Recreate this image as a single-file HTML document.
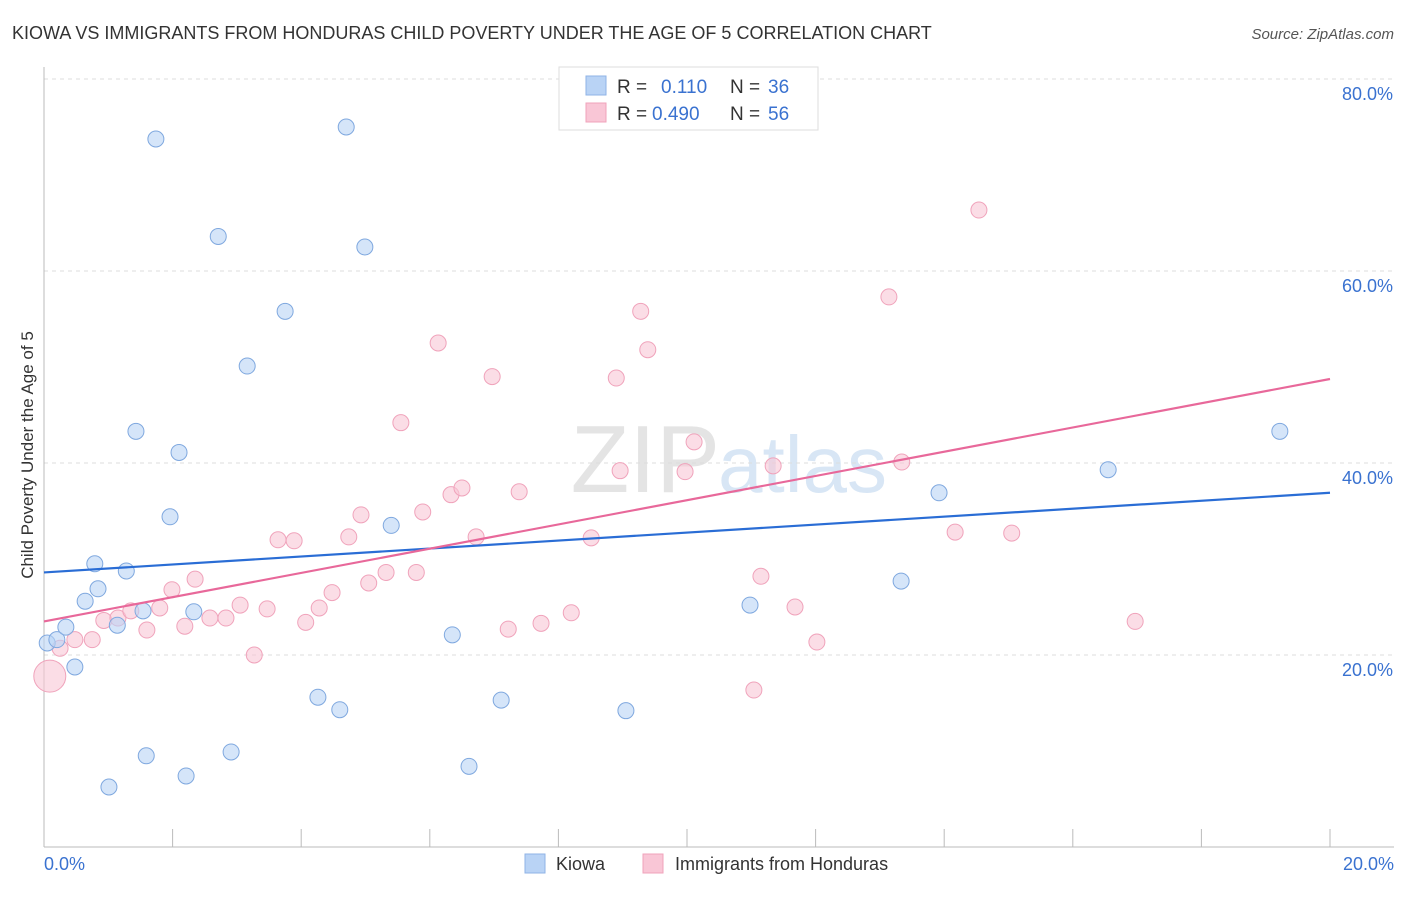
<!DOCTYPE html>
<html><head><meta charset="utf-8"><style>
body{margin:0;background:#fff;font-family:"Liberation Sans",sans-serif;}
svg text{font-family:"Liberation Sans",sans-serif;}
</style></head><body>
<svg id="chart" width="1406" height="892" xmlns="http://www.w3.org/2000/svg">
<text x="12" y="39" font-size="18" fill="#333">KIOWA VS IMMIGRANTS FROM HONDURAS CHILD POVERTY UNDER THE AGE OF 5 CORRELATION CHART</text>
<text x="1394" y="39" font-size="15" fill="#555" font-style="italic" text-anchor="end">Source: ZipAtlas.com</text>
<text x="720" y="492" font-size="96" fill="#e4e4e4" text-anchor="end" font-family="Liberation Serif">ZIP</text>
<text x="718" y="492" font-size="80" fill="#d8e6f5">atlas</text>
<g id="grid"></g>
<g id="axes"></g>
<g id="marks"></g>
<text transform="translate(33,455) rotate(-90)" font-size="17" fill="#333" text-anchor="middle">Child Poverty Under the Age of 5</text>
<g>
<rect x="559" y="67" width="259" height="63" fill="#fff" stroke="#ddd"/>
<rect x="586" y="76" width="20" height="19" fill="#b9d3f5" stroke="#8fb3e6"/>
<rect x="586" y="103" width="20" height="19" fill="#f9c6d6" stroke="#f0a3bb"/>
<text x="617" y="93" font-size="19" fill="#333">R = </text><text x="661" y="93" font-size="19" fill="#3a72d0">0.110</text>
<text x="730" y="93" font-size="19" fill="#333">N = </text><text x="768" y="93" font-size="19" fill="#3a72d0">36</text>
<text x="617" y="120" font-size="19" fill="#333">R = </text><text x="652" y="120" font-size="19" fill="#3a72d0">0.490</text>
<text x="730" y="120" font-size="19" fill="#333">N = </text><text x="768" y="120" font-size="19" fill="#3a72d0">56</text>
</g>
<g>
<rect x="525" y="854" width="20" height="19" fill="#b9d3f5" stroke="#8fb3e6"/>
<text x="556" y="870" font-size="18" fill="#333">Kiowa</text>
<rect x="643" y="854" width="20" height="19" fill="#f9c6d6" stroke="#f0a3bb"/>
<text x="675" y="870" font-size="18" fill="#333">Immigrants from Honduras</text>
</g>
</svg>
<script>
const yTicks=[20,40,60,80];
const yTickLabels=["20.0%","40.0%","60.0%","80.0%"];
const xTickLabels=["0.0%","20.0%"];
const kiowaX=[0.05,0.2,0.34,0.48,0.64,0.79,0.84,1.14,1.28,1.43,1.54,1.59,1.74,1.96,2.1,2.21,2.33,2.71,2.91,3.16,3.75,4.26,4.6,4.7,4.99,5.4,6.35,6.61,7.11,9.05,10.98,13.33,13.92,16.55,19.22,1.01];
const kiowaY=[21.25,21.6,22.9,18.75,25.6,29.5,26.9,23.1,28.75,43.3,24.6,9.5,73.75,34.4,41.1,7.4,24.5,63.6,9.9,50.1,55.8,15.6,14.3,75.0,62.5,33.5,22.1,8.4,15.3,14.2,25.2,27.7,36.9,39.3,43.3,6.25];
const hondX=[0.09,0.25,0.48,0.75,0.93,1.15,1.35,1.6,1.8,1.99,2.19,2.35,2.58,2.83,3.05,3.27,3.47,3.64,3.89,4.07,4.28,4.48,4.74,4.93,5.05,5.32,5.55,5.79,5.89,6.13,6.33,6.5,6.72,6.97,7.22,7.39,7.73,8.2,8.51,8.9,8.96,9.28,9.39,9.97,10.11,11.04,11.15,11.34,11.68,12.02,13.14,13.34,14.17,14.54,15.05,16.97];
const hondY=[17.8,20.7,21.6,21.6,23.6,23.85,24.6,22.6,24.9,26.8,23.0,27.9,23.85,23.85,25.2,20.0,24.8,32.0,31.9,23.4,24.9,26.5,32.3,34.6,27.5,28.6,44.2,28.6,34.9,52.5,36.7,37.4,32.3,49.0,22.7,37.0,23.3,24.4,32.2,48.85,39.2,55.8,51.8,39.1,42.2,16.35,28.2,39.7,25.0,21.35,57.3,40.1,32.8,66.35,32.7,23.5];
const kiowaTrend=[28.6,36.9];
const hondTrend=[23.5,48.75];
const NS="http://www.w3.org/2000/svg";
const X=v=>44+v/20*1286;
const Y=v=>847-v*9.6;
function mk(tag,attrs,parent){const e=document.createElementNS(NS,tag);for(const k in attrs)e.setAttribute(k,attrs[k]);document.getElementById(parent).appendChild(e);return e;}
yTicks.forEach((t,i)=>{
 const g=mk('line',{x1:44,x2:1394,y1:Y(t),y2:Y(t),stroke:'#ddd','stroke-dasharray':'4,4'},'grid');
 
 
 const l=mk('text',{x:1393,y:Y(t)+21,'font-size':18,fill:'#3a72d0','text-anchor':'end'},'axes');
 l.textContent=yTickLabels[i];
 
 
});
const ax=mk('line',{x1:44,x2:1394,y1:847,y2:847,stroke:'#bbb'},'axes');


const ay=mk('line',{x1:44,x2:44,y1:67,y2:847,stroke:'#bbb'},'axes');


for(let i=1;i<=10;i++){const t=mk('line',{x1:X(i*2),x2:X(i*2),y1:829,y2:847,stroke:'#bbb'},'axes');
 
 }
[[0,'start',44],[20,'end',1394]].forEach((d,i)=>{const t=mk('text',{x:d[2],y:870,'font-size':18,fill:'#3a72d0','text-anchor':d[1]},'axes');t.textContent=xTickLabels[i];
 
 });
hondX.forEach((v,i)=>{const c=mk('circle',{cx:X(v),cy:Y(hondY[i]),r:i===0?16:8,fill:'#f9c6d6','fill-opacity':0.6,stroke:'#f0a3bb','stroke-width':1},'marks');
 
 });
kiowaX.forEach((v,i)=>{const c=mk('circle',{cx:X(v),cy:Y(kiowaY[i]),r:8,fill:'#b9d3f5','fill-opacity':0.6,stroke:'#7fa8df','stroke-width':1},'marks');
 
 });
const tl1=mk('line',{x1:X(0),x2:X(20),y1:Y(kiowaTrend[0]),y2:Y(kiowaTrend[1]),stroke:'#2a6dd5','stroke-width':2.2},'marks');


const tl2=mk('line',{x1:X(0),x2:X(20),y1:Y(hondTrend[0]),y2:Y(hondTrend[1]),stroke:'#e8689a','stroke-width':2.2},'marks');


</script>
</body></html>
